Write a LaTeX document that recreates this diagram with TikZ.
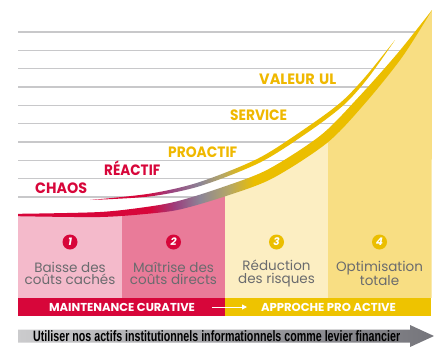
\documentclass[tikz,border=0pt]{standalone}
\usepackage{fontspec}
\usepackage{graphicx}
\newfontfamily\geo{Poppins}
\newfontfamily\arialf{Liberation Sans}
\usetikzlibrary{arrows.meta}
\definecolor{cred}{HTML}{D7063A}
\definecolor{cpurp}{HTML}{9C3F7E}
\definecolor{cgray}{HTML}{8C8596}
\definecolor{colive}{HTML}{B5A766}
\definecolor{cgold}{HTML}{EBBE00}
\definecolor{cgoldt}{HTML}{EFB800}
\definecolor{colA}{HTML}{F4BACB}
\definecolor{colB}{HTML}{E97B99}
\definecolor{colC}{HTML}{FCEEC2}
\definecolor{colD}{HTML}{F8DE83}
\definecolor{cline}{HTML}{C8C8CA}
\definecolor{ctext}{HTML}{6A6B6E}
\definecolor{cbar}{HTML}{EEC300}
\definecolor{arrL}{HTML}{CBCBCD}
\definecolor{arrR}{HTML}{75757B}
\pgfdeclarehorizontalshading{thickshade}{100bp}{color(0bp)=(cred); color(41bp)=(cred); color(44bp)=(cpurp); color(47bp)=(cgray); color(50.5bp)=(colive); color(53.5bp)=(cgold); color(100bp)=(cgold)}
\pgfdeclarehorizontalshading{thinshade}{100bp}{color(0bp)=(cred); color(34bp)=(cred); color(38bp)=(cpurp); color(43bp)=(cgray); color(46.6bp)=(colive); color(50.4bp)=(cgold); color(100bp)=(cgold)}
\newsavebox\fitbox
\newcommand\fitw[2]{\sbox\fitbox{#2}\pgfmathsetmacro\fitratio{#1/\the\wd\fitbox}\scalebox{\fitratio}[1]{\usebox\fitbox}}
\tikzset{
  lab/.style={inner sep=0pt, anchor=base west, font=\geo\bfseries\fontsize{15}{15}\selectfont},
  btxt/.style={inner sep=0pt, anchor=center, align=center, text=ctext, font=\geo\fontsize{13.5}{12.5}\selectfont},
  numc/.style={circle, inner sep=0pt, minimum size=15pt, text=white, font=\geo\bfseries\itshape\fontsize{10.5}{10.5}\selectfont},
  bartxt/.style={inner sep=0pt, anchor=base, text=white, font=\geo\bfseries\fontsize{11.5}{11.5}\selectfont},
  gline/.style={cline, line width=1.2pt}
}
\begin{document}
\begin{tikzpicture}[x=1pt,y=-1pt]
\useasboundingbox (0,0) rectangle (438,346);
% horizontal lines
\foreach \k in {0,...,9} {
  \draw[gline] (18,{32+18.33*\k}) -- (431,{32+18.33*\k});
}
% columns under the curve
\begin{scope}
\clip plot[smooth] coordinates {(18,215) (100,214.5) (150,210) (180,205) (223,192) (270,174) (324,139) (362,100) (400,55) (432,10)} -- (431.5,298) -- (18,298) -- cycle;
\fill[colA] (18,0) rectangle (122,298);
\fill[colB] (122,0) rectangle (225,298);
\fill[colC] (225,0) rectangle (328,298);
\fill[colD] (328,0) rectangle (432,298);
\end{scope}
% thick swoosh
\shade[shading=thickshade] plot[smooth] coordinates {(18,213.8) (100,212) (149.5,206.5) (179,200.8) (221.5,187.5) (267.8,169.5) (320.8,135.2) (358.7,97) (397.6,53.2) (432,10)} -- plot[smooth] coordinates {(432,10) (402.4,56.8) (365.3,103) (327.2,142.8) (272.2,178.5) (224.5,196.5) (181,209.2) (150.5,213.5) (100,217) (18,216.2)} -- cycle;
% thin swoosh
\shade[shading=thinshade] plot[smooth] coordinates {(90,200) (150,193.6) (199.4,182.1) (259,158) (308.7,126.1) (341.6,101.6) (365.9,76.1) (395,40)} -- plot[smooth] coordinates {(395,40) (368.1,77.9) (344.4,104.4) (311.3,129.9) (261,162) (200.6,185.9) (150,196.4) (90,200)} -- cycle;
% level labels
\node[lab, text=cgoldt] (valeur) at (259,84) {\fitw{77}{VALEUR\hspace{0.3em}UL}};
\node[lab, text=cgoldt] (service) at (230,120) {\fitw{57}{SERVICE}};
\node[lab, text=cgoldt] (proactif) at (168,157) {\fitw{69}{PROACTIF}};
\node[lab, text=cred] (reactif) at (104,175) {\fitw{56}{RÉACTIF}};
\node[lab, text=cred] (chaos) at (35,193) {\fitw{52}{CHAOS}};
% numbers
\node[numc, fill=cred] (n1) at (70,242) {1};
\node[numc, fill=cred] (n2) at (173.5,242) {2};
\node[numc, fill=cgold] (n3) at (276.5,242) {3};
\node[numc, fill=cgold] (n4) at (379.5,242) {4};
% box texts
\node[btxt] (t1) at (70,273.5) {Baisse des\\coûts cachés};
\node[btxt] (t2) at (173.5,273.5) {Maîtrise des\\coûts directs};
\node[btxt] (t3) at (276.5,273.5) {Réduction\\des risques};
\node[btxt] (t4) at (379.5,273.5) {Optimisation\\totale};
% bars
\fill[cred] (18,298) rectangle (225,316);
\fill[cbar] (225,298) rectangle (431,316);
\node[bartxt] (maint) at (122,311.5) {\fitw{146}{MAINTENANCE CURATIVE}};
\node[bartxt] (appro) at (328.5,311.5) {\fitw{135}{APPROCHE PRO ACTIVE}};
\coordinate (aS) at (212,307);
\coordinate (aE) at (247,307);
\draw[white, line width=1pt, -{Triangle[length=5pt,width=5pt]}] (aS) -- (aE);
% bottom arrow
\shade[left color=arrL, right color=arrR] (18,329.5) -- (410,329.5) -- (410,325) -- (434,336) -- (410,347) -- (410,342.5) -- (18,342.5) -- cycle;
\node[inner sep=0pt, anchor=base west] (levier) at (33,341.5) {\fitw{367}{\arialf\bfseries\fontsize{15}{15}\selectfont Utiliser nos actifs institutionnels informationnels comme levier financier}};
\end{tikzpicture}
\end{document}
